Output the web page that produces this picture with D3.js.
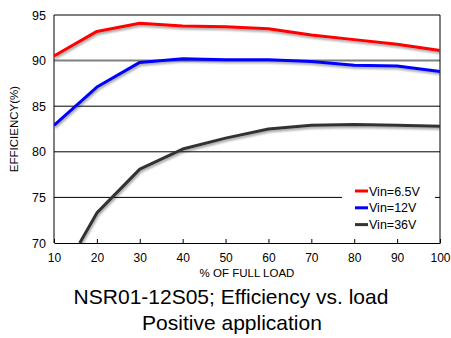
<!DOCTYPE html>
<html>
<head>
<meta charset="utf-8">
<script src="https://cdn.jsdelivr.net/npm/d3@7"></script>
<style>
body { margin:0; background:#fff; }
text { font-family: "Liberation Sans", Arial, sans-serif; }
</style>
</head>
<body>
<svg id="chart" width="451" height="338"></svg>
<script>
// data
var loads = [10, 20, 30, 40, 50, 60, 70, 80, 90, 100]
var vin65 = [90.5, 93.2, 94.1, 93.8, 93.7, 93.5, 92.8, 92.3, 91.8, 91.1]
var vin12 = [82.9, 87.1, 89.8, 90.2, 90.1, 90.1, 89.9, 89.5, 89.4, 88.8]
var loads36 = [16, 20, 30, 40, 50, 60, 70, 80, 90, 100]
var vin36 = [70, 73.3, 78.1, 80.3, 81.5, 82.5, 82.9, 83.0, 82.9, 82.8]
var yTicks = [70, 75, 80, 85, 90, 95]
var series = [
  {name: "Vin=6.5V", x: loads, y: vin65, color: "#ff0000"},
  {name: "Vin=12V", x: loads, y: vin12, color: "#0000ff"},
  {name: "Vin=36V", x: loads36, y: vin36, color: "#333333"}
]

var svg = d3.select("#chart")
var pLeft = 54, pRight = 440, pTop = 15, pBottom = 243

var x = d3.scaleLinear().domain([10, 100]).range([pLeft, pRight])
var y = d3.scaleLinear().domain([70, 95]).range([pBottom, pTop])

// shadow under the lines
var defs = svg.append("defs")
var f = defs.append("filter").attr("id", "shadow").attr("x", "-10%").attr("y", "-10%").attr("width", "120%").attr("height", "130%")
f.append("feDropShadow").attr("dx", 1).attr("dy", 2).attr("stdDeviation", 1.2)
  .attr("flood-color", "#000").attr("flood-opacity", 0.35)
defs.append("clipPath").attr("id", "plotclip").append("rect")
  .attr("x", pLeft).attr("y", pTop - 3).attr("width", pRight - pLeft).attr("height", pBottom - pTop + 3)

// grid lines
svg.selectAll(".grid").data(yTicks.slice(1)).enter().append("line")
  .attr("x1", pLeft).attr("x2", pRight)
  .attr("y1", function(d){ return y(d) }).attr("y2", function(d){ return y(d) })
  .attr("stroke", function(d){ return d >= 90 ? "#808080" : "#000" })
  .attr("stroke-width", function(d){ return d >= 90 ? 2 : 1 })

// frame
svg.append("line").attr("x1", pLeft).attr("x2", pLeft).attr("y1", pTop).attr("y2", pBottom).attr("stroke", "#000")
svg.append("line").attr("x1", pRight).attr("x2", pRight).attr("y1", pTop).attr("y2", pBottom).attr("stroke", "#000")

// x axis
var xAxis = d3.axisBottom(x).tickValues(loads).tickSizeInner(-4).tickSizeOuter(0).tickPadding(10)
var gx = svg.append("g").attr("transform", "translate(0," + pBottom + ")").call(xAxis)
gx.select(".domain").attr("stroke", "#000")
gx.selectAll("text").attr("font-size", 12).attr("fill", "#000").attr("font-family", "Liberation Sans, Arial, sans-serif")

// y axis labels
var yAxis = d3.axisLeft(y).tickValues(yTicks).tickSize(0).tickPadding(8)
var gy = svg.append("g").attr("transform", "translate(" + pLeft + ",0)").call(yAxis)
gy.select(".domain").remove()
gy.selectAll("text").attr("font-size", 12.5).attr("fill", "#000").attr("font-family", "Liberation Sans, Arial, sans-serif")

// lines
var line = d3.line()
var plot = svg.append("g").attr("clip-path", "url(#plotclip)")
series.forEach(function(s){
  var pts = s.x.map(function(v, i){ return [x(v), y(s.y[i])] })
  plot.append("path").attr("d", line(pts))
    .attr("fill", "none").attr("stroke", s.color).attr("stroke-width", 3)
    .attr("stroke-linejoin", "round").attr("filter", "url(#shadow)")
})

// legend
var lg = svg.append("g")
lg.append("rect").attr("x", 342).attr("y", 180).attr("width", 93).attr("height", 56).attr("fill", "#fff")
series.forEach(function(s, i){
  var yy = 191 + i * 16.8
  lg.append("line").attr("x1", 355).attr("x2", 368).attr("y1", yy).attr("y2", yy)
    .attr("stroke", s.color).attr("stroke-width", 3)
  lg.append("text").attr("x", 369).attr("y", yy + 4.5).attr("font-size", 12.5).text(s.name)
})

// axis titles
svg.append("text").attr("x", 247).attr("y", 276.5).attr("text-anchor", "middle")
  .attr("font-size", 11.5).text("% OF FULL LOAD")
svg.append("text").attr("transform", "translate(18,129) rotate(-90)").attr("text-anchor", "middle")
  .attr("font-size", 11.5).text("EFFICIENCY(%)")

// caption
svg.append("text").attr("x", 231).attr("y", 304).attr("text-anchor", "middle")
  .attr("font-size", 21).text("NSR01-12S05; Efficiency vs. load")
svg.append("text").attr("x", 232).attr("y", 330).attr("text-anchor", "middle")
  .attr("font-size", 21).text("Positive application")
</script>
</body>
</html>
